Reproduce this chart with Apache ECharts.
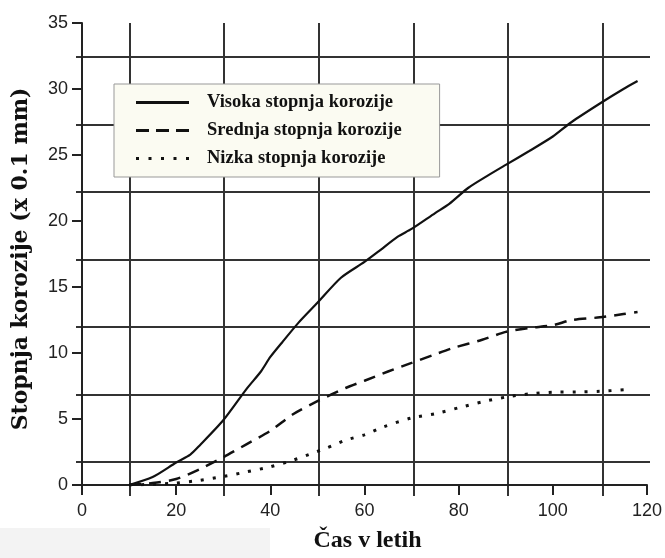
<!DOCTYPE html>
<html>
<head>
<meta charset="utf-8">
<script src="https://cdn.jsdelivr.net/npm/echarts@6/dist/echarts.min.js"></script>
<style>
html,body{margin:0;padding:0;background:#fff;}
#chart{width:665px;height:558px;}
</style>
</head>
<body>
<div id="chart"></div>
<script>
// ---- data ----
const seriesNames = ['Visoka stopnja korozije', 'Srednja stopnja korozije', 'Nizka stopnja korozije'];

const visokaX = [10, 15, 20, 23, 25, 30, 35, 38, 40, 42.5, 46, 50, 55, 60, 63, 67, 70, 75, 78, 82, 86, 90, 95, 100, 104, 110, 115, 118];
const visokaY = [0, 0.6, 1.7, 2.3, 3.0, 4.9, 7.3, 8.6, 9.7, 10.8, 12.3, 13.8, 15.7, 16.9, 17.7, 18.8, 19.4, 20.6, 21.3, 22.5, 23.4, 24.25, 25.3, 26.4, 27.5, 28.9, 30.0, 30.6];

const srednjaX = [10, 15, 20, 25, 30, 35, 40, 45, 50, 56, 60, 65, 70, 75, 79, 85, 90, 95, 100, 104, 110, 115, 118];
const srednjaY = [0, 0.15, 0.45, 1.2, 2.1, 3.1, 4.1, 5.4, 6.35, 7.35, 7.9, 8.6, 9.25, 9.9, 10.4, 11.0, 11.6, 11.9, 12.1, 12.5, 12.7, 12.95, 13.1];

const nizkaX = [10, 15, 20, 25, 30, 35, 40, 45, 49, 52, 56, 60, 64, 70, 75, 80, 85, 90, 95, 100, 105, 110, 116];
const nizkaY = [0, 0.05, 0.15, 0.35, 0.64, 1.0, 1.38, 1.9, 2.42, 2.8, 3.4, 3.8, 4.4, 5.08, 5.4, 5.85, 6.3, 6.66, 6.9, 7.03, 7.05, 7.1, 7.23];

const xTicks = [0, 20, 40, 60, 80, 100, 120];
const yTicks = [0, 5, 10, 15, 20, 25, 30, 35];
const xGridLines = [10, 30, 50, 70, 90, 110];
const yGridLines = [2.5, 7.5, 12.5, 17.5, 22.5, 27.5, 32.5];

// ---- layout ----
const W = 665, H = 558;
const PL = 82, PR = 650, PT = 23, PB = 496;
const xMin = xTicks[0], xMax = xTicks[xTicks.length - 1];
const yMin = yTicks[0], yMax = yTicks[yTicks.length - 1];
const xStep = xTicks[1] - xTicks[0], yStep = yTicks[1] - yTicks[0];
const xPx = v => PL + (v - xMin) / (xMax - xMin) * (PR - PL);
const yPx = v => PB - (v - yMin) / (yMax - yMin) * (PB - PT);

const zip = (xs, ys) => xs.map((x, i) => [x, ys[i]]);

const gridColor = '#333';
const sansFont = 'Liberation Sans, Arial, sans-serif';
const serifFont = 'Liberation Serif, Times New Roman, serif';

// legend samples (solid / dashed / dotted strokes drawn as small filled bars)
const legendIcons = [
  'path://M0,0H53V3H0Z',
  'path://M0,0H13V3H0Z M20,0H33V3H20Z M40,0H53V3H40Z',
  'path://M0,0H3V3H0Z M12.5,0H15.5V3H12.5Z M25,0H28V3H25Z M37.5,0H40.5V3H37.5Z M50,0H53V3H50Z'
];

const chart = echarts.init(document.getElementById('chart'), null, {renderer: 'canvas'});

const option = {
  backgroundColor: '#ffffff',
  animation: false,
  graphic: [{
    type: 'rect', z: -10, silent: true,
    shape: {x: 0, y: 528, width: 270, height: 30},
    style: {fill: '#f3f3f3'}
  }],
  grid: [
    {left: PL, right: W - PR, top: PT, bottom: H - PB, containLabel: false},
    {left: xPx(xGridLines[0]), right: W - xPx(xGridLines[xGridLines.length - 1]), top: PT, bottom: H - PB},
    {left: PL - 6, right: W - PR, top: yPx(yGridLines[yGridLines.length - 1]), bottom: H - yPx(yGridLines[0])}
  ],
  xAxis: [
    {
      gridIndex: 0, type: 'value', min: xMin, max: xMax, interval: xStep,
      name: 'Čas v letih', nameLocation: 'middle', nameGap: 44,
      nameTextStyle: {fontFamily: serifFont, fontWeight: 'bold', fontSize: 24, color: '#111', padding: [0, 0, 0, 6]},
      axisLine: {show: true, onZero: false, lineStyle: {color: '#222', width: 2}},
      axisTick: {show: true, inside: false, length: 10, lineStyle: {color: '#222', width: 2}},
      axisLabel: {fontFamily: sansFont, fontSize: 18, color: '#222', margin: 17},
      splitLine: {show: false}, z: 5
    },
    {
      gridIndex: 1, type: 'value', min: xGridLines[0], max: xGridLines[xGridLines.length - 1],
      interval: xGridLines[1] - xGridLines[0],
      axisLine: {show: false}, axisTick: {show: false}, axisLabel: {show: false},
      splitLine: {show: true, lineStyle: {color: gridColor, width: 2}}
    },
    {
      gridIndex: 2, type: 'value', min: 0, max: 1, show: false
    }
  ],
  yAxis: [
    {
      gridIndex: 0, type: 'value', min: yMin, max: yMax, interval: yStep,
      name: 'Stopnja korozije (x 0.1 mm)', nameLocation: 'middle', nameGap: 50,
      nameTextStyle: {fontFamily: 'DejaVu Serif, serif', fontWeight: 'bold', fontSize: 22, color: '#111', padding: [0, 10, 0, 0]},
      axisLine: {show: true, onZero: false, lineStyle: {color: '#222', width: 2}},
      axisTick: {show: true, inside: false, length: 10, lineStyle: {color: '#222', width: 2}},
      axisLabel: {fontFamily: sansFont, fontSize: 18, color: '#222', margin: 14},
      splitLine: {show: false}, z: 5
    },
    {
      gridIndex: 1, type: 'value', min: 0, max: 1, show: false, splitLine: {show: false}
    },
    {
      gridIndex: 2, type: 'value', min: yGridLines[0], max: yGridLines[yGridLines.length - 1],
      interval: yGridLines[1] - yGridLines[0],
      axisLine: {show: false}, axisTick: {show: false}, axisLabel: {show: false},
      splitLine: {show: true, lineStyle: {color: gridColor, width: 2}}
    }
  ],
  legend: {
    show: true, selectedMode: false, orient: 'vertical',
    left: 114, top: 84,
    itemWidth: 53, itemHeight: 3, itemGap: 9,
    padding: [9, 38, 9, 22],
    backgroundColor: '#fbfbf2', borderColor: '#999', borderWidth: 1, borderRadius: 0,
    textStyle: {fontFamily: serifFont, fontWeight: 'bold', fontSize: 18.5, color: '#111', padding: [0, 0, 0, 13]},
    data: seriesNames.map((n, i) => ({name: n, icon: legendIcons[i], itemStyle: {color: '#111'}}))
  },
  series: [
    {
      name: seriesNames[0], type: 'line', xAxisIndex: 0, yAxisIndex: 0,
      data: zip(visokaX, visokaY), smooth: 0.25, showSymbol: false, symbol: 'none',
      lineStyle: {color: '#111', width: 2.2, type: 'solid'}, itemStyle: {color: '#111'}, z: 10
    },
    {
      name: seriesNames[1], type: 'line', xAxisIndex: 0, yAxisIndex: 0,
      data: zip(srednjaX, srednjaY), smooth: 0.25, showSymbol: false, symbol: 'none',
      lineStyle: {color: '#111', width: 2.5, type: [12, 8]}, itemStyle: {color: '#111'}, z: 10
    },
    {
      name: seriesNames[2], type: 'line', xAxisIndex: 0, yAxisIndex: 0,
      data: zip(nizkaX, nizkaY), smooth: 0.25, showSymbol: false, symbol: 'none',
      lineStyle: {color: '#111', width: 3, type: [3, 9]}, itemStyle: {color: '#111'}, z: 10
    }
  ]
};
chart.setOption(option);
</script>
</body>
</html>
